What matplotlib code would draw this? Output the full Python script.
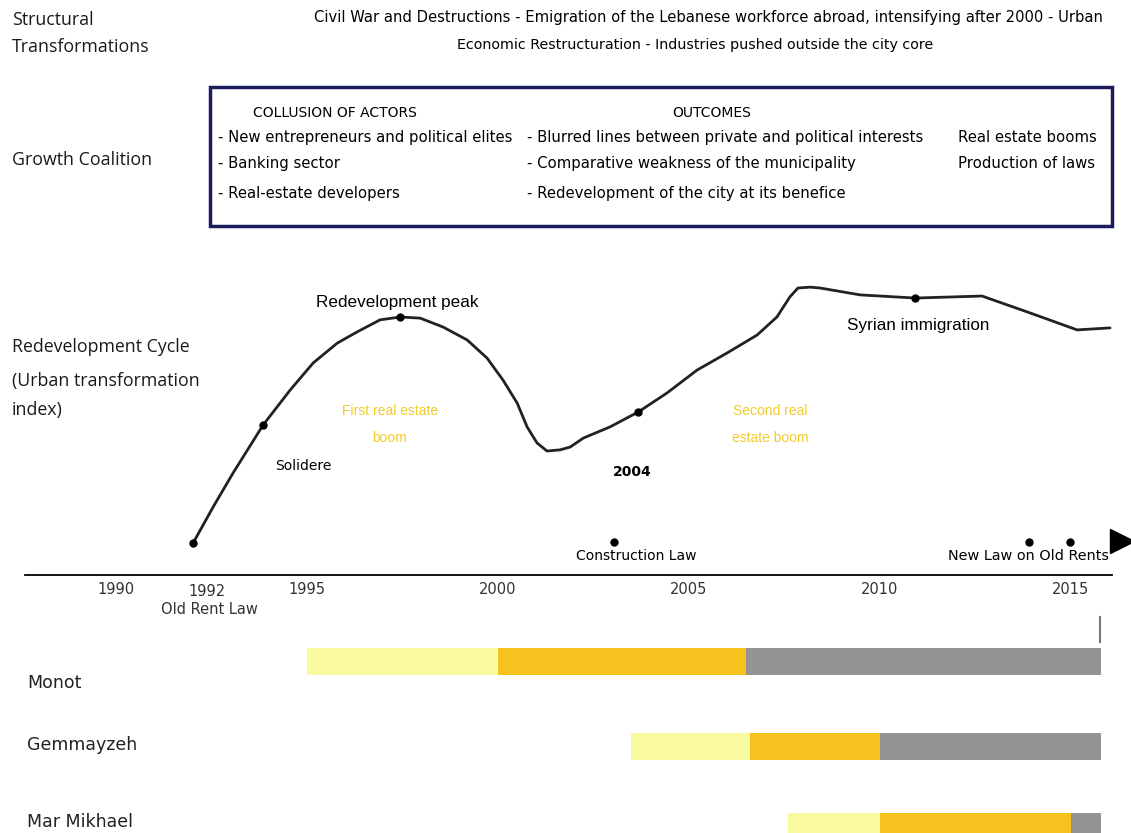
import numpy as np
import matplotlib.pyplot as plt
from matplotlib.patches import Rectangle

W, H = 1131, 833

# redevelopment cycle: year -> urban transformation index (0-100)
cycle_years = [1992.02, 1992.55, 1993.07, 1993.86, 1994.57, 1995.17, 1995.80, 1996.32,
               1996.92, 1997.45, 1997.97, 1998.57, 1999.20, 1999.72, 2000.14, 2000.51,
               2000.77, 2001.03, 2001.29, 2001.63, 2001.90, 2002.24, 2002.94, 2003.68,
               2004.43, 2005.22, 2006.01, 2006.79, 2007.31, 2007.65, 2007.86, 2008.18,
               2008.44, 2009.49, 2010.93, 2012.68, 2013.94, 2015.17, 2016.03]
cycle_index = [11.0, 23.7, 35.5, 52.3, 64.5, 73.9, 80.8, 84.7,
               88.9, 89.9, 89.5, 86.4, 81.9, 75.6, 67.9, 59.9,
               51.6, 46.0, 43.2, 43.6, 44.6, 47.7, 51.6, 56.8,
               63.4, 71.4, 77.4, 83.6, 89.9, 96.9, 100.0, 100.3,
               100.0, 97.6, 96.5, 97.2, 91.3, 85.4, 86.1]

# marked events on the curve
event_years = [1992.02, 1993.86, 1997.45, 2003.68, 2010.93]
event_index = [11.0, 52.3, 89.9, 56.8, 96.5]

# laws marked along the time line
law_years = [2003.05, 2013.9, 2014.98]
law_index = [11.4, 11.4, 11.4]

tick_years = [1990, 1995, 2000, 2005, 2010, 2015]

# neighbourhood phases (start of each phase, end of last)
areas = ['Monot', 'Gemmayzeh', 'Mar Mikhael']
phase_1 = [1995.0, 2003.5, 2007.6]
phase_2 = [2000.0, 2006.6, 2010.0]
phase_3 = [2006.5, 2010.0, 2015.0]
phase_end = [2015.8, 2015.8, 2015.8]
phase_colors = ['#fafaa0', '#f8c21e', '#949494']

XLIM = (1986.97, 2016.58)
NARROW = ['Liberation Sans Narrow', 'DejaVu Sans']
SANS = ['Liberation Sans', 'DejaVu Sans']
LABEL = ['Open Sans', 'DejaVu Sans']
GOLD = '#f2cb2a'

fig = plt.figure(figsize=(W / 100, H / 100), dpi=100)

# pixel-space axes for the free text and the box
ax = fig.add_axes([0, 0, 1, 1])
ax.set_xlim(0, W)
ax.set_ylim(H, 0)
ax.axis('off')

# time axes: x in years, y in pixels
at = fig.add_axes([0, 0, 1, 1])
at.set_xlim(*XLIM)
at.set_ylim(H, 0)
at.axis('off')
at.patch.set_alpha(0)

# curve axes: x in years, y = index
ac = fig.add_axes([0, (H - 575) / H, 1, 287 / H])
ac.set_xlim(*XLIM)
ac.set_ylim(0, 100)
ac.axis('off')
ac.patch.set_alpha(0)

# left column labels
for txt, y in [('Structural', 20), ('Transformations', 47), ('Growth Coalition', 160),
               ('Redevelopment Cycle', 347), ('(Urban transformation', 381), ('index)', 410)]:
    ax.text(12, y, txt, fontsize=12.8, family=LABEL, color='#1a1a1a', va='center')

# structural transformations
ax.text(708, 17, 'Civil War and Destructions - Emigration of the Lebanese workforce abroad, '
        'intensifying after 2000 - Urban', fontsize=10.6, family=NARROW, ha='center', va='center')
ax.text(695, 45, 'Economic Restructuration - Industries pushed outside the city core',
        fontsize=10.3, family=NARROW, ha='center', va='center')

# growth coalition box
ax.add_patch(Rectangle((210, 87), 902, 139, fill=False, edgecolor='#1b1b5e', lw=2.5))
ax.text(335, 113, 'COLLUSION OF ACTORS', fontsize=10, family=NARROW, ha='center', va='center')
ax.text(712, 113, 'OUTCOMES', fontsize=10, family=NARROW, ha='center', va='center')
col1 = ['- New entrepreneurs and political elites', '- Banking sector', '- Real-estate developers']
col2 = ['- Blurred lines between private and political interests',
        '- Comparative weakness of the municipality', '- Redevelopment of the city at its benefice']
col3 = ['Real estate booms', 'Production of laws']
rows_y = [137, 163, 193]
for t, y in zip(col1, rows_y):
    ax.text(218, y, t, fontsize=10.7, family=NARROW, va='center')
for t, y in zip(col2, rows_y):
    ax.text(527, y, t, fontsize=10.7, family=NARROW, va='center')
for t, y in zip(col3, rows_y):
    ax.text(958, y, t, fontsize=10.7, family=NARROW, va='center')

# redevelopment curve
ac.plot(cycle_years, cycle_index, color='#222222', lw=2, solid_joinstyle='round',
        solid_capstyle='round', clip_on=False)
ac.plot(event_years, event_index, 'o', color='black', ms=5, clip_on=False)
ac.plot(law_years, law_index, 'o', color='black', ms=5, clip_on=False)
ac.plot([2016.35], [11.8], '>', color='black', ms=17, clip_on=False)

ax.text(397, 303, 'Redevelopment peak', fontsize=12.3, family=SANS, ha='center', va='center')
ax.text(918, 325, 'Syrian immigration', fontsize=12.3, family=SANS, ha='center', va='center')
ax.text(275, 466, 'Solidere', fontsize=10, family=NARROW, va='center')
ax.text(632, 472, '2004', fontsize=10, family=NARROW, weight='bold', ha='center', va='center')
ax.text(390, 411, 'First real estate', fontsize=10, family=SANS, color=GOLD, ha='center', va='center')
ax.text(390, 438, 'boom', fontsize=10, family=SANS, color=GOLD, ha='center', va='center')
ax.text(770, 411, 'Second real', fontsize=10, family=SANS, color=GOLD, ha='center', va='center')
ax.text(770, 438, 'estate boom', fontsize=10, family=SANS, color=GOLD, ha='center', va='center')
ax.text(636, 556, 'Construction Law', fontsize=10, family=NARROW, ha='center', va='center')
ax.text(1028, 556, 'New Law on Old Rents', fontsize=10.4, family=NARROW, ha='center', va='center')

# time line
at.plot([1987.63, 2016.08], [575, 575], color='black', lw=1.3)
for yr in tick_years:
    at.text(yr, 589, str(yr), fontsize=10.5, family=NARROW, color='#333333', ha='center', va='center')
at.text(1992.4, 592, '1992', fontsize=10.5, family=NARROW, color='#333333', ha='center', va='center')
at.text(1992.45, 610, 'Old Rent Law', fontsize=10.5, family=NARROW, color='#333333', ha='center', va='center')
at.plot([2015.77, 2015.77], [617, 642], color='#777777', lw=1.5)

# neighbourhood phase bars
rows_bar = [661, 746, 826]
starts = np.array([phase_1, phase_2, phase_3])
ends = np.array([phase_2, phase_3, phase_end])
for k in range(3):
    at.barh(rows_bar, ends[k] - starts[k], left=starts[k], height=27,
            color=phase_colors[k], edgecolor='none')
for name, y in zip(areas, [683, 745, 822]):
    ax.text(27, y, name, fontsize=12.5, family=NARROW, color='#222222', va='center')

fig.savefig('out.png', dpi=100)
